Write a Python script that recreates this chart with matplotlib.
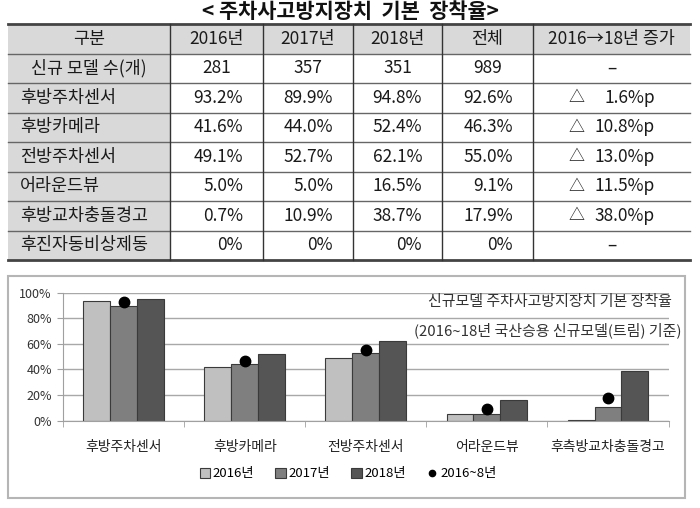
import matplotlib
matplotlib.use('Agg')
import matplotlib.pyplot as plt
from matplotlib.patches import Rectangle
from matplotlib.lines import Line2D
import numpy as np

plt.rcParams['font.family'] = ['Noto Sans CJK KR', 'DejaVu Sans']

# ---------------- data ----------------
title = '< 주차사고방지장치  기본  장착율>'
col_headers = ['구분', '2016년', '2017년', '2018년', '전체', '2016→18년 증가']
model_label = '신규 모델 수(개)'
model_counts = [281, 357, 351, 989]
row_labels = ['후방주차센서', '후방카메라', '전방주차센서', '어라운드뷰', '후방교차충돌경고', '후진자동비상제동']
rate_2016 = [93.2, 41.6, 49.1, 5.0, 0.7, 0.0]
rate_2017 = [89.9, 44.0, 52.7, 5.0, 10.9, 0.0]
rate_2018 = [94.8, 52.4, 62.1, 16.5, 38.7, 0.0]
rate_total = [92.6, 46.3, 55.0, 9.1, 17.9, 0.0]
increase = [1.6, 10.8, 13.0, 11.5, 38.0, None]

chart_categories = ['후방주차센서', '후방카메라', '전방주차센서', '어라운드뷰', '후측방교차충돌경고']
chart_note = ['신규모델 주차사고방지장치 기본 장착율', '(2016~18년 국산승용 신규모델(트림) 기준)']
legend_labels = ['2016년', '2017년', '2018년', '2016~8년']
y_ticks = [0, 20, 40, 60, 80, 100]

# ---------------- figure ----------------
W, H = 700, 508
fig = plt.figure(figsize=(W / 100, H / 100), dpi=100)
fig.patch.set_facecolor('white')

def fx(x):
    return x / W

def fy(y):
    return 1 - y / H

T = fig.transFigure

# Title
fig.text(fx(350), fy(12), title, ha='center', va='center', fontsize=15,
         fontweight='bold', color='#111111')

# Table geometry
col_x = [8, 170, 263, 353, 442, 533, 690]
row_h = 29.5
top = 24
row_y = [top + row_h * i for i in range(9)]

# fills
fig.add_artist(Rectangle((fx(col_x[0]), fy(row_y[1])), (col_x[-1] - col_x[0]) / W,
                         row_h / H, transform=T, facecolor='#d9d9d9', edgecolor='none', zorder=0))
fig.add_artist(Rectangle((fx(col_x[0]), fy(row_y[-1])), (col_x[1] - col_x[0]) / W,
                         (row_y[-1] - row_y[1]) / H, transform=T, facecolor='#d9d9d9',
                         edgecolor='none', zorder=0))
# horizontal lines
for i, yy in enumerate(row_y):
    lw = 2.0 if i in (0, len(row_y) - 1) else 1.0
    col = '#444444' if i in (0, len(row_y) - 1) else '#666666'
    fig.add_artist(Line2D([fx(col_x[0]), fx(col_x[-1])], [fy(yy), fy(yy)],
                          transform=T, color=col, lw=lw))
# vertical lines
for xx in col_x[1:-1]:
    fig.add_artist(Line2D([fx(xx), fx(xx)], [fy(row_y[0]), fy(row_y[-1])],
                          transform=T, color='#333333', lw=1.0))

fs = 12.5
tc = '#1a1a1a'

def cy(i):
    return fy(row_y[i] + row_h / 2)

# header row
for j, h in enumerate(col_headers):
    fig.text(fx((col_x[j] + col_x[j + 1]) / 2), cy(0), h, ha='center', va='center',
             fontsize=fs, color=tc)
# model count row
fig.text(fx((col_x[0] + col_x[1]) / 2), cy(1), model_label, ha='center', va='center',
         fontsize=fs, color=tc)
for j, v in enumerate(model_counts):
    fig.text(fx((col_x[j + 1] + col_x[j + 2]) / 2), cy(1), str(v), ha='center',
             va='center', fontsize=fs, color=tc)
fig.text(fx((col_x[5] + col_x[6]) / 2), cy(1), '–', ha='center', va='center',
         fontsize=fs, color=tc)

def pct(v):
    return '0%' if v == 0 else f'{v:.1f}%'

for i, lab in enumerate(row_labels):
    r = i + 2
    fig.text(fx(20), cy(r), lab, ha='left', va='center', fontsize=fs, color=tc)
    vals = [rate_2016[i], rate_2017[i], rate_2018[i], rate_total[i]]
    for j, v in enumerate(vals):
        fig.text(fx(col_x[j + 2] - 20), cy(r), pct(v), ha='right', va='center',
                 fontsize=fs, color=tc)
    if increase[i] is None:
        fig.text(fx((col_x[5] + col_x[6]) / 2), cy(r), '–', ha='center', va='center',
                 fontsize=fs, color=tc)
    else:
        fig.text(fx(577), cy(r), '△', ha='center', va='center', fontsize=fs - 1, color=tc)
        fig.text(fx(655), cy(r), f'{increase[i]:.1f}%p', ha='right', va='center',
                 fontsize=fs, color=tc)

# ---------------- chart ----------------
fig.add_artist(Rectangle((fx(8), fy(498)), (685 - 8) / W, (498 - 276) / H, transform=T,
                         fill=False, edgecolor='#b5b5b5', lw=1.5))

ax = fig.add_axes([fx(63), fy(420.7), (668.5 - 63) / W, 128 / H])
n = len(chart_categories)
x = np.arange(n)
bw = 0.222
c16 = np.array(rate_2016[:n]) / 100
c17 = np.array(rate_2017[:n]) / 100
c18 = np.array(rate_2018[:n]) / 100
ctot = np.array(rate_total[:n]) / 100

ec = '#3a3a3a'
b1 = ax.bar(x - bw, c16, bw, color='#c0c0c0', edgecolor=ec, lw=0.8, zorder=2)
b2 = ax.bar(x, c17, bw, color='#7f7f7f', edgecolor=ec, lw=0.8, zorder=2)
b3 = ax.bar(x + bw, c18, bw, color='#555555', edgecolor=ec, lw=0.8, zorder=2)
pts, = ax.plot(x, ctot, 'o', color='black', ms=7.5, zorder=3, clip_on=False, ls='none')

ax.set_xlim(-0.5, n - 0.5)
ax.set_ylim(0, 1)
ax.set_yticks(np.array(y_ticks) / 100)
ax.set_yticklabels([f'{t}%' for t in y_ticks], fontsize=9, color='#333333')
ax.yaxis.grid(True, color='#a8a8a8', lw=1)
ax.set_axisbelow(True)
for s in ('top', 'right'):
    ax.spines[s].set_visible(False)
ax.spines['left'].set_color('#a0a0a0')
ax.spines['bottom'].set_color('#a0a0a0')
ax.tick_params(axis='y', length=4, color='#a0a0a0', pad=4)
ax.set_xticks(x)
ax.set_xticklabels(chart_categories, fontsize=10, color='#222222')
ax.tick_params(axis='x', which='major', length=0, pad=14)
ax.set_xticks(np.arange(-0.5, n, 1.0), minor=True)
ax.tick_params(axis='x', which='minor', length=4, color='#a0a0a0', direction='out')

fig.text(fx(672), fy(302), chart_note[0], ha='right', va='center', fontsize=10.8,
         color='#333333')
fig.text(fx(681), fy(330), chart_note[1], ha='right', va='center', fontsize=10.8,
         color='#333333')

fig.legend([b1, b2, b3, pts], legend_labels, loc='center', ncol=4,
           bbox_to_anchor=(fx(348), fy(474)), frameon=False, fontsize=9.5,
           handlelength=0.8, handleheight=0.8, handletextpad=0.2, columnspacing=1.6,
           markerscale=0.6)

fig.savefig('out.png', dpi=100, facecolor='white')
